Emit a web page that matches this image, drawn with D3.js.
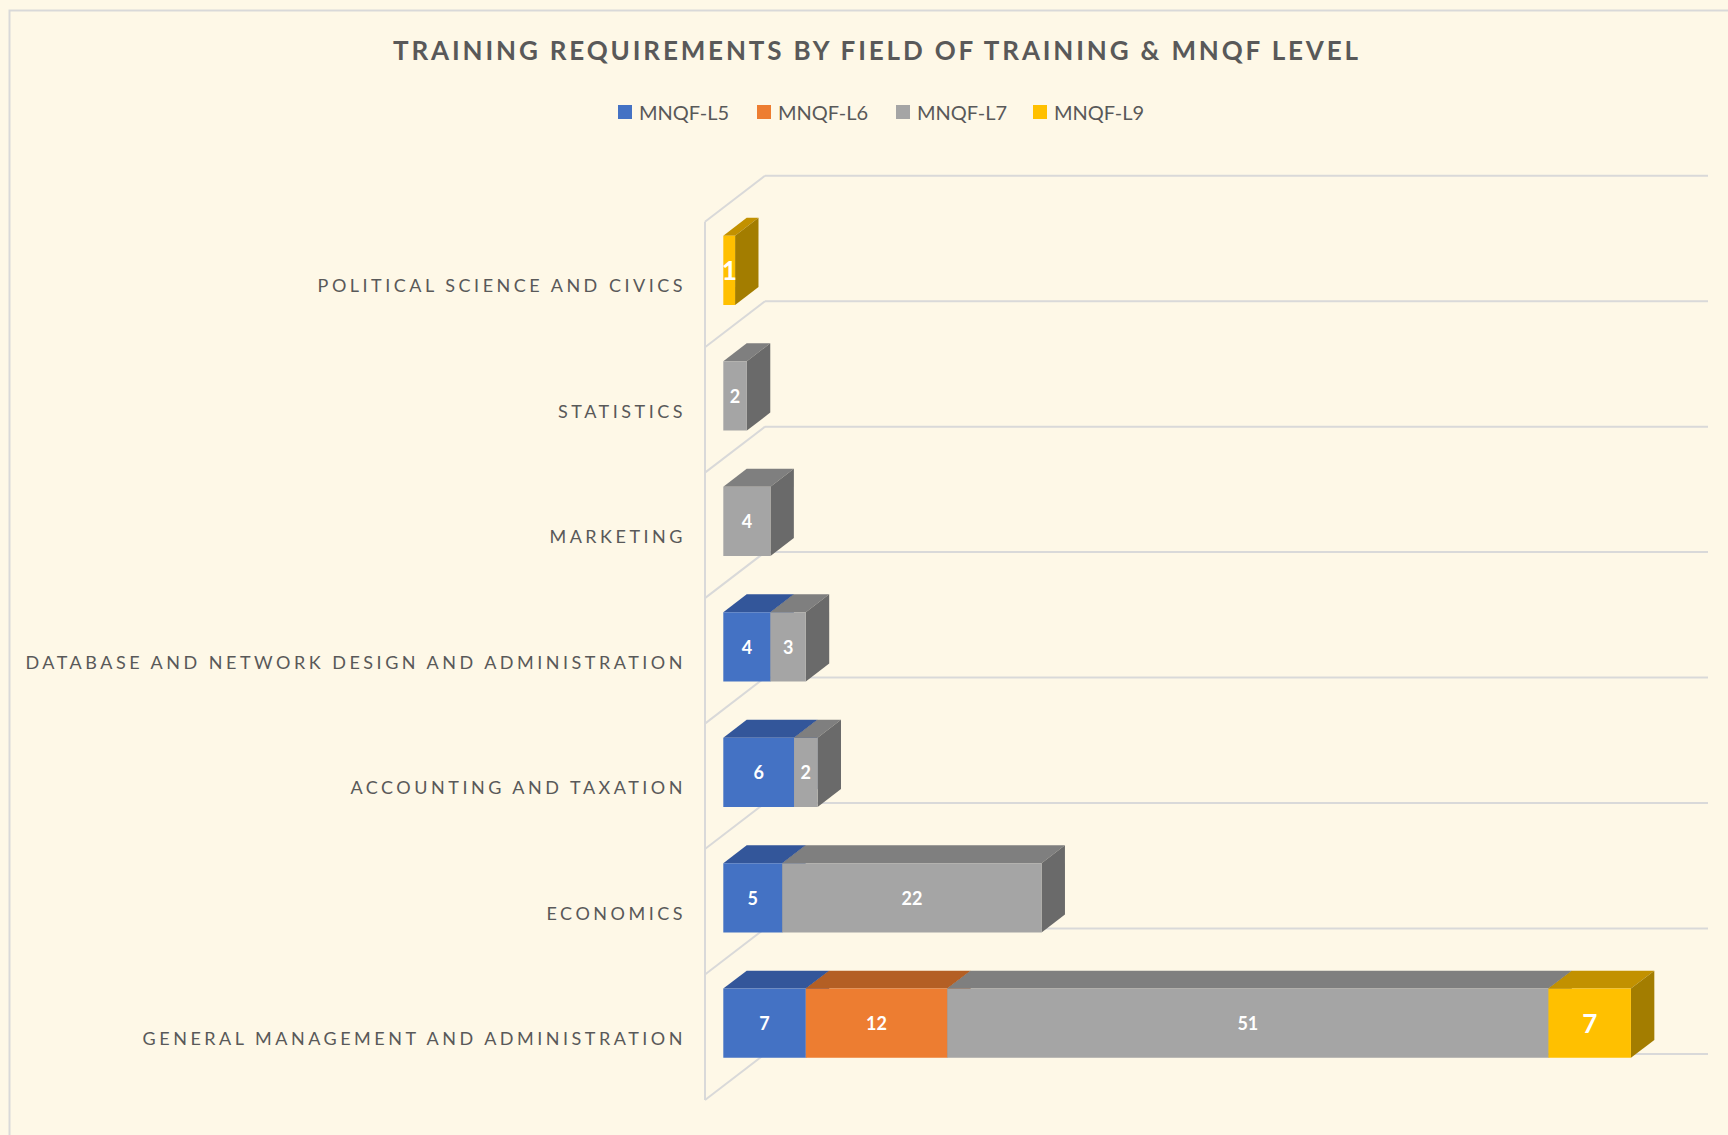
<!DOCTYPE html>
<html>
<head>
<meta charset="utf-8">
<script src="https://cdn.jsdelivr.net/npm/d3@7"></script>
<style>
  body { margin: 0; background: #fef8e7; }
  svg { display: block; }
</style>
</head>
<body>
<svg width="1728" height="1135"></svg>
<script>

var categories = [
  'POLITICAL SCIENCE AND CIVICS',
  'STATISTICS',
  'MARKETING',
  'DATABASE AND NETWORK DESIGN AND ADMINISTRATION',
  'ACCOUNTING AND TAXATION',
  'ECONOMICS',
  'GENERAL MANAGEMENT AND ADMINISTRATION'
];
var seriesNames = ['MNQF-L5', 'MNQF-L6', 'MNQF-L7', 'MNQF-L9'];
var l5 = [0, 0, 0, 4, 6, 5, 7];
var l6 = [0, 0, 0, 0, 0, 0, 12];
var l7 = [0, 2, 4, 3, 2, 22, 51];
var l9 = [1, 0, 0, 0, 0, 0, 7];

var frontColors = ['#4472c4', '#ed7d31', '#a5a5a5', '#ffc000'];
var topColors = ['#33569a', '#b45f24', '#7f7f7f', '#c29100'];
var sideColors = ['#2b4a85', '#9a5020', '#6a6a6a', '#a37d00'];

var svg = d3.select('svg');

var DX = 60, DY = 46;       // depth of the 3d box
var Z0 = 0.305, Z1 = 0.695; // bar depth inside the box

svg.append('rect').attr('width', 1728).attr('height', 1135).attr('fill', '#fef8e7');
svg.append('rect').attr('x', 9.5).attr('y', 10.5).attr('width', 1740).attr('height', 1150)
  .attr('fill', 'none').attr('stroke', '#d9d9d9').attr('stroke-width', 2);

var x = d3.scaleLinear().domain([0, 80]).range([705, 1648]);
var y = d3.scaleBand().domain(categories).range([221.7, 1100])
  .paddingInner(0.448).paddingOuter(0.224);

function p(xv, yv, z) { return [xv + z * DX, yv - z * DY]; }
function poly(pts) { return pts.map(function (d) { return d.join(','); }).join(' '); }

/* grid */
var step = y.step();
var bounds = categories.map(function (c) { return y(c) - y.paddingInner() * step / 2; });
bounds[0] = y.range()[0];
bounds.push(y.range()[1]);

var grid = svg.append('g').attr('stroke', '#d9d9d9').attr('stroke-width', 2).attr('fill', 'none');
grid.selectAll('.back').data(bounds).enter().append('line')
  .attr('x1', function (d) { return p(x(0), d, 1)[0]; })
  .attr('x2', function (d) { return p(x(80), d, 1)[0]; })
  .attr('y1', function (d) { return p(x(0), d, 1)[1]; })
  .attr('y2', function (d) { return p(x(0), d, 1)[1]; });
grid.selectAll('.diag').data(bounds).enter().append('line')
  .attr('x1', x(0)).attr('y1', function (d) { return d; })
  .attr('x2', function (d) { return p(x(0), d, 1)[0]; })
  .attr('y2', function (d) { return p(x(0), d, 1)[1]; });
grid.append('line').attr('x1', x(0)).attr('x2', x(0))
  .attr('y1', bounds[0]).attr('y2', bounds[bounds.length - 1]);

/* bars */
var series = [l5, l6, l7, l9];
var bars = svg.append('g');
categories.forEach(function (cat, i) {
  var acc = 0;
  var top = y(cat), bot = y(cat) + y.bandwidth();
  series.forEach(function (s, k) {
    var v = s[i];
    if (!v) return;
    var xa = x(acc), xb = x(acc + v);
    acc += v;
    var g = bars.append('g');
    g.append('polygon').attr('fill', topColors[k])
      .attr('points', poly([p(xa, top, Z0), p(xb, top, Z0), p(xb, top, Z1), p(xa, top, Z1)]));
    g.append('polygon').attr('fill', sideColors[k])
      .attr('points', poly([p(xb, top, Z0), p(xb, top, Z1), p(xb, bot, Z1), p(xb, bot, Z0)]));
    g.append('polygon').attr('fill', frontColors[k])
      .attr('points', poly([p(xa, top, Z0), p(xb, top, Z0), p(xb, bot, Z0), p(xa, bot, Z0)]));
    var c = p((xa + xb) / 2, (top + bot) / 2, Z0);
    g.append('text').attr('x', c[0]).attr('y', c[1])
      .attr('text-anchor', 'middle').attr('dominant-baseline', 'central')
      .attr('fill', '#fff').attr('font-family', 'Lato, sans-serif').attr('font-weight', 700)
      .attr('font-size', k === 3 ? 26 : 18).text(v);
  });
});

/* category labels */
svg.append('g').selectAll('text').data(categories).enter().append('text')
  .attr('x', 686)
  .attr('y', function (d) { return y(d) + y.bandwidth() / 2 + 8; })
  .attr('text-anchor', 'end')
  .attr('fill', '#595959').attr('font-family', 'Lato, sans-serif').attr('font-size', 18)
  .style('letter-spacing', '3.5px')
  .text(function (d) { return d; });

/* title */
svg.append('text').attr('x', 877).attr('y', 60)
  .attr('text-anchor', 'middle').attr('fill', '#595959')
  .attr('font-family', 'Lato, sans-serif').attr('font-weight', 700).attr('font-size', 26)
  .style('letter-spacing', '2.85px')
  .text('TRAINING REQUIREMENTS BY FIELD OF TRAINING & MNQF LEVEL');

/* legend */
var legendX = [618, 757, 896, 1033];
var legend = svg.append('g').selectAll('g').data(seriesNames).enter().append('g')
  .attr('transform', function (d, i) { return 'translate(' + legendX[i] + ',105)'; });
legend.append('rect').attr('width', 14).attr('height', 14)
  .attr('fill', function (d, i) { return frontColors[i]; });
legend.append('text').attr('x', 21).attr('y', 15)
  .attr('fill', '#595959').attr('font-family', 'Lato, sans-serif').attr('font-size', 20)
  .text(function (d) { return d; });

</script>
</body>
</html>
